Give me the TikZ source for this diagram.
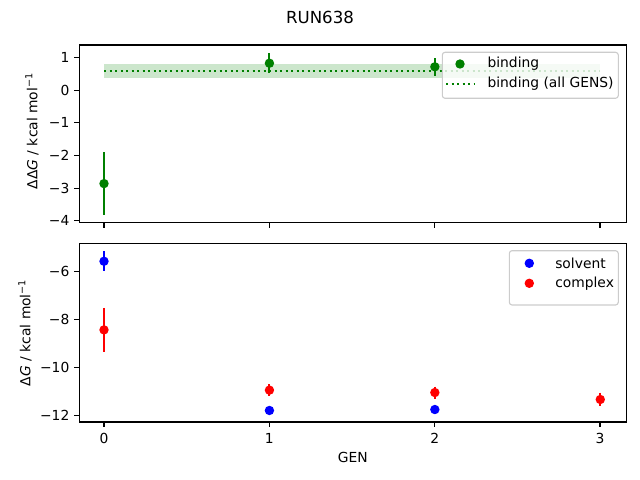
\documentclass[tikz,border=0pt]{standalone}
\usepackage{fontspec}
\setmainfont{DejaVu Sans}
\usetikzlibrary{positioning}
\definecolor{mplgreen}{rgb}{0,0.5,0}
\definecolor{mplblue}{rgb}{0,0,1}
\definecolor{mplred}{rgb}{1,0,0}
\definecolor{legendgray}{rgb}{0.8,0.8,0.8}

\begin{document}
\begin{tikzpicture}[x=0.01in,y=-0.01in,
  spine/.style={line width=0.8pt},
  errbar/.style={line width=1.5pt},
  dot/.style={circle,inner sep=0pt,minimum size=6.8pt},
  legendbox/.style={draw=legendgray,fill=white,fill opacity=0.8,rounded corners=2pt,line width=0.8pt}]
\useasboundingbox (0,0) rectangle (640,480);
\def\xl{79.3}
\def\xr{626.5}

% frames
\coordinate (T1) at (\xl,45);
\coordinate (T2) at (\xr,222.7);
\coordinate (B1) at (\xl,243.3);
\coordinate (B2) at (\xr,422);

% top panel data
\begin{scope}[shift={(104,90.3)},x={(1.6533in,0)},y={(0,0.326in)}]
\fill[mplgreen,opacity=0.2] (0,0.39) rectangle (3,0.81);
\draw[mplgreen,line width=1.5pt,dash pattern=on 1.5pt off 2.475pt] (0,0.6) -- (3,0.6);
\draw[mplgreen,errbar] (0,-1.9) -- (0,-3.82);
\draw[mplgreen,errbar] (1,1.13) -- (1,0.53);
\draw[mplgreen,errbar] (2,0.99) -- (2,0.45);
\node[dot,fill=mplgreen] (b0) at (0,-2.86) {};
\node[dot,fill=mplgreen] (b1) at (1,0.83) {};
\node[dot,fill=mplgreen] (b2) at (2,0.72) {};
\end{scope}

% bottom panel data
\begin{scope}[shift={(104,128.3)},x={(1.6533in,0)},y={(0,0.239in)}]
\draw[mplblue,errbar] (0,-5.15) -- (0,-5.97);
\draw[mplblue,errbar] (1,-11.75) -- (1,-11.85);
\draw[mplblue,errbar] (2,-11.71) -- (2,-11.81);
\draw[mplred,errbar] (0,-7.51) -- (0,-9.35);
\draw[mplred,errbar] (1,-10.7) -- (1,-11.2);
\draw[mplred,errbar] (2,-10.8) -- (2,-11.3);
\draw[mplred,errbar] (3,-11.05) -- (3,-11.61);
\node[dot,fill=mplblue] (s0) at (0,-5.56) {};
\node[dot,fill=mplblue] (s1) at (1,-11.8) {};
\node[dot,fill=mplblue] (s2) at (2,-11.76) {};
\node[dot,fill=mplred] (c0) at (0,-8.43) {};
\node[dot,fill=mplred] (c1) at (1,-10.95) {};
\node[dot,fill=mplred] (c2) at (2,-11.05) {};
\node[dot,fill=mplred] (c3) at (3,-11.34) {};
\end{scope}

\draw[spine] (T1) rectangle (T2);
\draw[spine] (B1) rectangle (B2);

% ticks
\foreach \i in {0,...,3}{
  \pgfmathsetmacro\tx{104+165.33*\i}
  \draw[spine] (\tx,222.7) -- ++(0,-3.5pt);
  \draw[spine] (\tx,422) -- ++(0,-3.5pt);
  \node (xt\i) at (\tx,438) {\i};
}
\foreach \v/\t in {1/1,0/0,-1/−1,-2/−2,-3/−3,-4/−4}{
  \pgfmathsetmacro\ty{90.3-32.6*\v}
  \draw[spine] (\xl,\ty) -- ++(-3.5pt,0);
  \node[anchor=east,inner sep=0pt] (yt\t) at (69.6,\ty) {\t};
}
\foreach \v/\t in {-6/−6,-8/−8,-10/−10,-12/−12}{
  \pgfmathsetmacro\ty{271.7-23.9*(\v+6)}
  \draw[spine] (\xl,\ty) -- ++(-3.5pt,0);
  \node[anchor=east,inner sep=0pt] (yb\t) at (69.6,\ty) {\t};
}

% labels
\node (title) at (320,17) {\fontsize{12}{14}\selectfont RUN638};
\node (xlabel) at (352.9,457) {GEN};
\node[rotate=90] (ylabtop) at (32,131) {ΔΔ\textit{G} / kcal mol\textsuperscript{−1}};
\node[rotate=90] (ylabbot) at (25,332.6) {Δ\textit{G} / kcal mol\textsuperscript{−1}};

% legends
\draw[legendbox] (442.3,52.3) rectangle (618.3,98.3);
\node[dot,fill=mplgreen] (lgbind) at (460,64) {};
\node[anchor=west,inner sep=0pt] (ltbind) at (487.3,64) {binding};
\draw[mplgreen,line width=1.5pt,dash pattern=on 1.5pt off 2.475pt] (446,84) coordinate (lgall) -- (474,84);
\node[anchor=west,inner sep=0pt] (ltall) at (487.3,84) {binding (all GENS)};

\draw[legendbox] (509.3,250.7) rectangle (618.3,305);
\node[dot,fill=mplblue] (lgsolv) at (529.3,263.3) {};
\node[anchor=west,inner sep=0pt] (ltsolv) at (555,263.3) {solvent};
\node[dot,fill=mplred] (lgcplx) at (529.3,283.3) {};
\node[anchor=west,inner sep=0pt] (ltcplx) at (555,283.3) {complex};
\end{tikzpicture}
\end{document}
